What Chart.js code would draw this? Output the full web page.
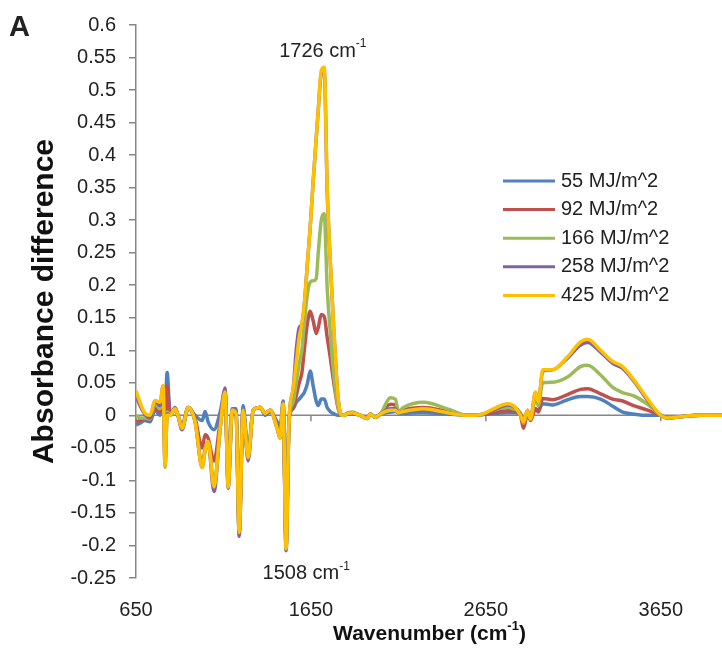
<!DOCTYPE html>
<html>
<head>
<meta charset="utf-8">
<script src="https://cdn.jsdelivr.net/npm/chart.js@4"></script>
<style>
  body { margin: 0; background: #fff; }
</style>
</head>
<body>
<canvas id="Espectro" width="722" height="649"></canvas>
<script>
// wavenumber (cm-1)
var numeroOnda = [650, 673, 700, 730, 759, 787, 805, 816, 828, 845,
    873, 890, 913, 948, 988, 1028, 1045, 1062, 1096, 1131,
    1159, 1177, 1200, 1222, 1240, 1262, 1291, 1320, 1360, 1388,
    1417, 1457, 1474, 1491, 1508, 1525, 1548, 1566, 1583, 1598,
    1612, 1629, 1646, 1663, 1680, 1692, 1709, 1726, 1743, 1760,
    1778, 1806, 1829, 1864, 1886, 1932, 1972, 1989, 2018, 2047,
    2104, 2133, 2150, 2178, 2293, 2430, 2545, 2619, 2693, 2774,
    2808, 2848, 2865, 2888, 2905, 2934, 2950, 2975, 3031, 3117,
    3191, 3232, 3306, 3375, 3432, 3495, 3575, 3650, 3690, 3764,
    3878, 4000];

var dose55 = [-0.015, -0.012, -0.008, -0.01, 0.008, 0.0, 0.03, 0.0, 0.066, 0.0,
    0.01, 0.0, -0.015, 0.012, 0.0, -0.008, 0.006, -0.01, -0.022, 0.005,
    0.038, -0.09, 0.01, 0.01, -0.17, 0.015, -0.055, 0.008, 0.012, 0.0,
    0.005, -0.01, -0.02, 0.022, -0.195, -0.004, 0.01, 0.02, 0.025, 0.03,
    0.035, 0.048, 0.068, 0.045, 0.022, 0.015, 0.025, 0.025, 0.012, 0.006,
    0.003, 0.0, 0.0, 0.002, 0.003, 0.0, -0.005, 0.002, -0.003, 0.002,
    0.005, 0.006, 0.004, 0.003, 0.004, 0.002, 0.0, 0.001, 0.003, 0.004,
    0.004, 0.002, -0.012, 0.004, -0.004, 0.01, 0.008, 0.018, 0.016, 0.024,
    0.029, 0.029, 0.025, 0.014, 0.005, 0.002, 0.0, 0.0, -0.004, -0.002,
    0.0, 0.0];

var dose92 = [-0.01, -0.008, -0.005, -0.008, 0.014, 0.005, 0.035, -0.05, 0.045, 0.0,
    0.01, 0.0, -0.02, 0.012, -0.005, -0.05, -0.03, -0.035, -0.07, -0.01,
    0.035, -0.105, 0.008, 0.005, -0.18, 0.008, -0.063, 0.008, 0.012, 0.003,
    0.008, -0.015, -0.03, 0.015, -0.2, -0.008, 0.012, 0.03, 0.05, 0.065,
    0.1, 0.14, 0.16, 0.145, 0.126, 0.135, 0.155, 0.152, 0.12, 0.09,
    0.055, 0.01, 0.0, 0.003, 0.004, 0.0, -0.005, 0.002, -0.003, 0.002,
    0.017, 0.016, 0.004, 0.008, 0.012, 0.006, 0.0, 0.001, 0.004, 0.007,
    0.007, 0.0, -0.02, 0.002, -0.008, 0.01, 0.005, 0.026, 0.024, 0.032,
    0.04, 0.041, 0.033, 0.025, 0.022, 0.015, 0.008, 0.0, -0.004, -0.002,
    0.0, 0.0];

var dose166 = [0.0, -0.004, -0.004, -0.006, 0.018, 0.01, 0.04, -0.08, 0.005, 0.0,
    0.01, 0.0, -0.02, 0.01, -0.01, -0.075, -0.05, -0.04, -0.105, -0.02,
    0.035, -0.11, 0.008, 0.003, -0.18, 0.008, -0.065, 0.008, 0.012, 0.003,
    0.008, -0.02, -0.035, 0.018, -0.205, -0.008, 0.02, 0.05, 0.08, 0.1,
    0.14, 0.185, 0.205, 0.207, 0.21, 0.25, 0.3, 0.31, 0.196, 0.13,
    0.07, 0.012, 0.0, 0.004, 0.005, 0.0, -0.005, 0.002, -0.003, 0.002,
    0.027, 0.025, 0.006, 0.012, 0.02, 0.01, 0.0, 0.001, 0.008, 0.012,
    0.01, 0.003, -0.012, 0.006, -0.005, 0.025, 0.015, 0.05, 0.051, 0.059,
    0.075, 0.077, 0.062, 0.043, 0.035, 0.03, 0.017, 0.0, -0.004, -0.002,
    0.0, 0.0];

var dose258 = [0.03, 0.015, 0.002, -0.004, 0.022, 0.015, 0.045, -0.076, 0.002, 0.0,
    0.012, 0.0, -0.022, 0.012, -0.01, -0.08, -0.055, -0.042, -0.117, -0.02,
    0.042, -0.112, 0.008, 0.003, -0.186, 0.008, -0.07, 0.008, 0.012, 0.003,
    0.008, -0.02, -0.035, 0.018, -0.208, -0.008, 0.04, 0.1, 0.135, 0.14,
    0.17, 0.23, 0.29, 0.36, 0.425, 0.47, 0.525, 0.53, 0.345, 0.24,
    0.145, 0.025, 0.0, 0.003, 0.004, 0.0, -0.005, 0.002, -0.003, 0.002,
    0.01, 0.01, 0.004, 0.006, 0.008, 0.004, 0.0, 0.001, 0.008, 0.016,
    0.014, 0.002, -0.01, 0.008, -0.006, 0.035, 0.02, 0.068, 0.07, 0.088,
    0.108, 0.112, 0.097, 0.08, 0.072, 0.053, 0.023, 0.0, -0.004, -0.002,
    0.0, 0.0];

var dose425 = [0.038, 0.02, 0.004, 0.0, 0.023, 0.02, 0.046, -0.077, 0.0, 0.0,
    0.01, 0.0, -0.02, 0.012, -0.01, -0.08, -0.055, -0.04, -0.11, -0.02,
    0.036, -0.11, 0.008, 0.003, -0.18, 0.008, -0.065, 0.008, 0.012, 0.003,
    0.008, -0.02, -0.035, 0.018, -0.205, -0.008, 0.04, 0.08, 0.12, 0.14,
    0.17, 0.23, 0.29, 0.36, 0.425, 0.47, 0.53, 0.535, 0.35, 0.24,
    0.147, 0.025, 0.0, 0.003, 0.004, 0.0, -0.005, 0.002, -0.003, 0.002,
    0.008, 0.008, 0.004, 0.006, 0.01, 0.004, 0.0, 0.001, 0.01, 0.018,
    0.015, 0.0, -0.01, 0.008, -0.006, 0.036, 0.02, 0.07, 0.07, 0.09,
    0.113, 0.117, 0.1, 0.083, 0.075, 0.055, 0.025, 0.0, -0.004, -0.002,
    0.0, 0.0];

var nomesSeries = ["55 MJ/m^2", "92 MJ/m^2", "166 MJ/m^2", "258 MJ/m^2", "425 MJ/m^2"];
var coresSeries = ["#4F81BD", "#C0504D", "#9BBB59", "#8064A2", "#FFC000"];
var ticksX = [650, 1650, 2650, 3650];
var picos = [
    { texto: "1726 cm", sup: "-1", x: 1718, y: 0.56 },
    { texto: "1508 cm", sup: "-1", x: 1623, y: -0.243 }
];

var fonte = "Arial, 'Liberation Sans', sans-serif";
var corTexto = "#222";
var corEixo = "#868686";

function montarPontos(valores) {
    return numeroOnda.map(function (x, i) { return { x: x, y: valores[i] }; });
}

var todas = [dose55, dose92, dose166, dose258, dose425];
var datasets = todas.map(function (valores, i) {
    return {
        label: nomesSeries[i],
        data: montarPontos(valores),
        borderColor: coresSeries[i],
        backgroundColor: coresSeries[i],
        borderWidth: 3.5,
        pointRadius: 0,
        fill: false,
        cubicInterpolationMode: 'monotone',
        order: todas.length - i
    };
});

function textoSup(ctx, texto, sup, cx, cy, tamanho, negrito) {
    var peso = negrito ? "bold " : "";
    ctx.font = peso + tamanho + "px " + fonte;
    var w1 = ctx.measureText(texto).width;
    ctx.font = peso + Math.round(tamanho * 0.62) + "px " + fonte;
    var w2 = ctx.measureText(sup).width;
    var x0 = cx - (w1 + w2) / 2;
    ctx.textAlign = "left";
    ctx.textBaseline = "middle";
    ctx.font = peso + tamanho + "px " + fonte;
    ctx.fillText(texto, x0, cy);
    ctx.font = peso + Math.round(tamanho * 0.62) + "px " + fonte;
    ctx.fillText(sup, x0 + w1, cy - tamanho * 0.35);
    return x0 + w1 + w2;
}

var extras = {
    id: 'extras',
    beforeDatasetsDraw: function (chart) {
        var ctx = chart.ctx, sx = chart.scales.x, sy = chart.scales.y;
        var y0 = sy.getPixelForValue(0);
        ctx.save();
        ctx.strokeStyle = corEixo;
        ctx.lineWidth = 1.5;
        ctx.beginPath();
        ctx.moveTo(chart.chartArea.left, y0);
        ctx.lineTo(chart.chartArea.right, y0);
        ticksX.forEach(function (v) {
            var px = sx.getPixelForValue(v);
            ctx.moveTo(px, y0);
            ctx.lineTo(px, y0 + 6);
        });
        ctx.stroke();
        ctx.restore();
    },
    afterDraw: function (chart) {
        var ctx = chart.ctx, sx = chart.scales.x, sy = chart.scales.y;
        ctx.save();
        ctx.fillStyle = corTexto;

        // panel letter
        ctx.font = "bold 29px " + fonte;
        ctx.textAlign = "left";
        ctx.textBaseline = "alphabetic";
        ctx.fillText("A", 9, 36);

        // peak labels
        picos.forEach(function (p) {
            textoSup(ctx, p.texto, p.sup, sx.getPixelForValue(p.x), sy.getPixelForValue(p.y), 20, false);
        });

        // x axis title
        ctx.fillStyle = "#111";
        var fim = textoSup(ctx, "Wavenumber (cm", "-1", 426, 634, 21, true);
        ctx.font = "bold 21px " + fonte;
        ctx.textBaseline = "middle";
        ctx.fillText(")", fim, 634);

        // legend
        ctx.font = "20px " + fonte;
        ctx.fillStyle = corTexto;
        ctx.textBaseline = "middle";
        chart.data.datasets.forEach(function (ds, i) {
            var ly = 181 + i * 28.6;
            ctx.strokeStyle = ds.borderColor;
            ctx.lineWidth = 3;
            ctx.beginPath();
            ctx.moveTo(503, ly);
            ctx.lineTo(555, ly);
            ctx.stroke();
            ctx.fillText(ds.label, 561, ly);
        });
        ctx.restore();
    }
};

new Chart(document.getElementById('Espectro'), {
    type: 'line',
    data: { datasets: datasets },
    options: {
        responsive: false,
        animation: false,
        devicePixelRatio: 1,
        layout: { padding: { top: 14, right: 0, bottom: 0, left: 0 } },
        plugins: {
            legend: { display: false },
            tooltip: { enabled: false }
        },
        scales: {
            x: {
                type: 'linear',
                min: 650,
                max: 4000,
                afterBuildTicks: function (scale) {
                    scale.ticks = ticksX.map(function (v) { return { value: v }; });
                },
                afterFit: function (scale) { scale.height = 71; },
                grid: { display: false },
                border: { display: false },
                ticks: {
                    padding: 12,
                    color: corTexto,
                    maxRotation: 0,
                    font: { size: 20, family: fonte },
                    callback: function (v) { return String(v); }
                }
            },
            y: {
                min: -0.25,
                max: 0.6,
                afterBuildTicks: function (scale) {
                    var t = [];
                    for (var k = -5; k <= 12; k++) t.push({ value: k * 0.05 });
                    scale.ticks = t;
                },
                afterFit: function (scale) { scale.width = 136; },
                grid: {
                    drawOnChartArea: false,
                    tickLength: 7,
                    tickColor: corEixo,
                    lineWidth: 1.5
                },
                border: { display: true, color: corEixo, width: 1.5 },
                title: {
                    display: true,
                    text: "Absorbance difference",
                    color: "#111",
                    padding: { top: 27 },
                    font: { size: 30, weight: 'bold', family: fonte }
                },
                ticks: {
                    padding: 13,
                    color: corTexto,
                    font: { size: 20, family: fonte },
                    callback: function (v) { return String(Math.round(v * 100) / 100); }
                }
            }
        }
    },
    plugins: [extras]
});
</script>
</body>
</html>
